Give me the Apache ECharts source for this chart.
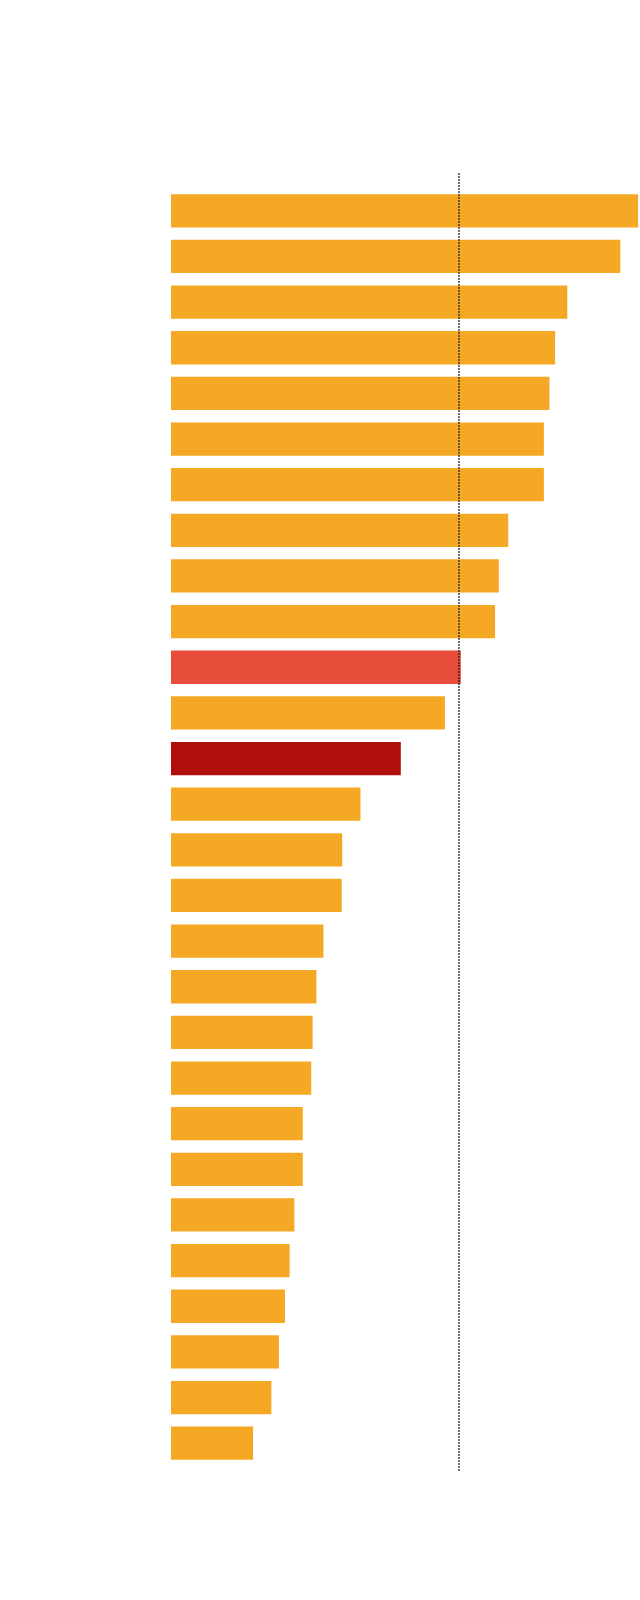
<!DOCTYPE html>
<html>
<head>
<meta charset="utf-8">
<script src="https://cdn.jsdelivr.net/npm/echarts@6/dist/echarts.min.js"></script>
<style>
  html, body { margin: 0; padding: 0; background: #fff; }
  #chart { width: 640px; height: 1600px; }
</style>
</head>
<body>
<div id="chart"></div>
<script>
// rows top to bottom
const categories = [
  'r1', 'r2', 'r3', 'r4', 'r5', 'r6', 'r7', 'r8', 'r9', 'r10',
  'r11', 'r12', 'r13', 'r14', 'r15', 'r16', 'r17', 'r18', 'r19', 'r20',
  'r21', 'r22', 'r23', 'r24', 'r25', 'r26', 'r27', 'r28'
]
const values = [
  99.6, 95.8, 84.5, 81.9, 80.7, 79.5, 79.5, 71.9, 69.9, 69.1,
  61.8, 58.4, 49.0, 40.4, 36.5, 36.4, 32.5, 31.0, 30.2, 29.9,
  28.1, 28.1, 26.3, 25.3, 24.3, 23.0, 21.4, 17.5
]
// 0 = normal, 1 = highlight, 2 = dark highlight
const highlight = [
  0, 0, 0, 0, 0, 0, 0, 0, 0, 0,
  1, 0, 2, 0, 0, 0, 0, 0, 0, 0,
  0, 0, 0, 0, 0, 0, 0, 0
]
const refValue = 61.4

const colors = ['#F5A823', '#E84C3B', '#AE0F0B']

const chart = echarts.init(document.getElementById('chart'))

const barData = values.map((v, i) => ({
  value: v,
  itemStyle: { color: colors[highlight[i]] }
}))

const option = {
  animation: false,
  backgroundColor: '#fff',
  grid: [
    { left: 171, right: 0, top: 188, bottom: 134 },
    { left: 171, right: 0, top: 172, bottom: 129 }
  ],
  xAxis: [
    { type: 'value', min: 0, max: 100, show: false, gridIndex: 0 },
    { type: 'value', min: 0, max: 100, show: false, gridIndex: 1 }
  ],
  yAxis: [
    { type: 'category', data: categories, inverse: true, show: false, gridIndex: 0 },
    { type: 'value', min: 0, max: 1, show: false, gridIndex: 1 }
  ],
  series: [
    {
      type: 'bar',
      data: barData,
      barCategoryGap: '27%',
      xAxisIndex: 0,
      yAxisIndex: 0
    },
    {
      // dotted reference line
      type: 'line',
      data: [[refValue, 0], [refValue, 1]],
      symbol: 'none',
      z: 5,
      lineStyle: { color: '#222', width: 1.3, type: [2, 1] },
      xAxisIndex: 1,
      yAxisIndex: 1
    }
  ]
}

chart.setOption(option)
</script>
</body>
</html>
